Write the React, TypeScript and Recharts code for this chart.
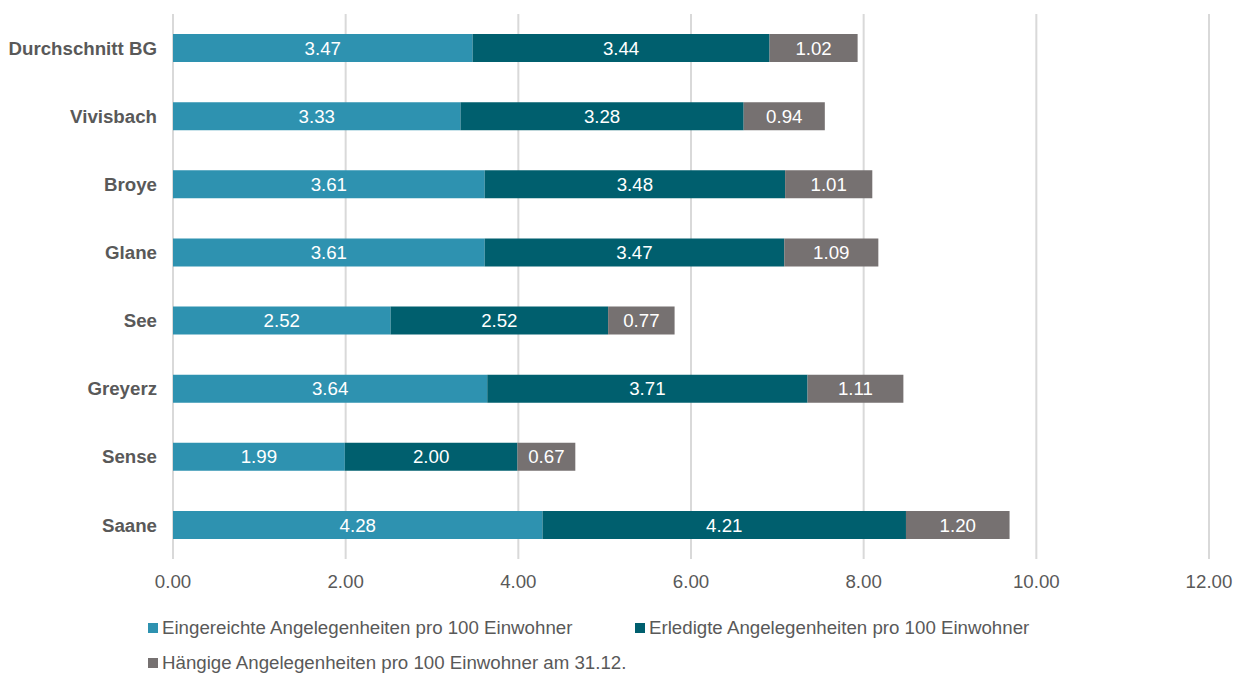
import { Bar, BarChart, CartesianGrid, LabelList, XAxis, YAxis } from 'recharts';

const regions = ['Durchschnitt BG', 'Vivisbach', 'Broye', 'Glane', 'See', 'Greyerz', 'Sense', 'Saane'];
const eingereicht = [3.47, 3.33, 3.61, 3.61, 2.52, 3.64, 1.99, 4.28];
const erledigt = [3.44, 3.28, 3.48, 3.47, 2.52, 3.71, 2.0, 4.21];
const haengig = [1.02, 0.94, 1.01, 1.09, 0.77, 1.11, 0.67, 1.2];
const xTicks = [0, 2, 4, 6, 8, 10, 12];

const seriesNames = [
  'Eingereichte Angelegenheiten pro 100 Einwohner',
  'Erledigte Angelegenheiten pro 100 Einwohner',
  'Hängige Angelegenheiten pro 100 Einwohner am 31.12.',
];
const colors = ['#2e92b0', '#005f6e', '#767171'];

const data = regions.map((name, i) => ({
  name,
  a: eingereicht[i],
  b: erledigt[i],
  c: haengig[i],
}));

const FONT = "'Liberation Sans', Arial, sans-serif";
const FS = 18.7;
const fmt = (v: any) => Number(v).toFixed(2);

const LegendBox = () => {
  const item = (i: number, left: number, top: number) => (
    <div
      key={i}
      style={{ position: 'absolute', left, top, display: 'flex', alignItems: 'center', whiteSpace: 'nowrap' }}
    >
      <span style={{ width: 10, height: 10, background: colors[i], marginRight: 4, display: 'inline-block' }} />
      <span>{seriesNames[i]}</span>
    </div>
  );
  return (
    <div
      style={{ position: 'absolute', left: 0, top: 617, width: 1242, height: 60, fontFamily: FONT, fontSize: FS, color: '#595959' }}
    >
      {item(0, 148, 0)}
      {item(1, 635, 0)}
      {item(2, 148, 35)}
    </div>
  );
};

export default function App() {
  return (
    <div style={{ position: 'absolute', left: 0, top: 0, width: 1242, height: 677, background: '#fff' }}>
      <BarChart
        width={1242}
        height={677}
        data={data}
        layout="vertical"
        barSize={28}
        margin={{ top: 14, right: 33, bottom: 88, left: 0 }}
        style={{ fontFamily: FONT }}
      >
        <CartesianGrid horizontal={false} stroke="#d9d9d9" strokeWidth={2} />
        <XAxis
          type="number"
          domain={[0, 12]}
          ticks={xTicks}
          tickFormatter={fmt}
          axisLine={false}
          tickLine={false}
          tickMargin={10}
          tick={{ fill: '#595959', fontSize: FS }}
          interval={0}
        />
        <YAxis
          type="category"
          dataKey="name"
          width={173}
          axisLine={false}
          tickLine={false}
          tickMargin={10}
          tick={{ fill: '#595959', fontSize: FS, fontWeight: 'bold' }}
          interval={0}
        />
        <Bar dataKey="a" stackId="s" fill={colors[0]} name={seriesNames[0]} isAnimationActive={false}>
          <LabelList dataKey="a" position="center" fill="#fff" fontSize={FS} formatter={fmt} />
        </Bar>
        <Bar dataKey="b" stackId="s" fill={colors[1]} name={seriesNames[1]} isAnimationActive={false}>
          <LabelList dataKey="b" position="center" fill="#fff" fontSize={FS} formatter={fmt} />
        </Bar>
        <Bar dataKey="c" stackId="s" fill={colors[2]} name={seriesNames[2]} isAnimationActive={false}>
          <LabelList dataKey="c" position="center" fill="#fff" fontSize={FS} formatter={fmt} />
        </Bar>
      </BarChart>
      <LegendBox />
    </div>
  );
}
